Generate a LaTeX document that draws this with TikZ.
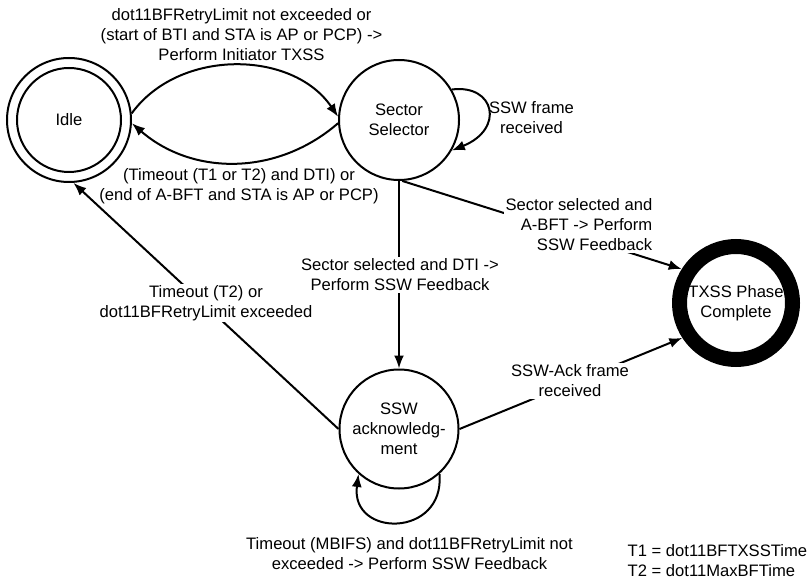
\documentclass[tikz,border=0pt]{standalone}
\usepackage{fontspec}
\setmainfont{Liberation Sans}
\usetikzlibrary{arrows.meta}
\begin{document}
\begin{tikzpicture}[x=1pt,y=1pt,
  every node/.style={font=\fontsize{16.6}{20}\selectfont},
  state/.style={circle,draw,line width=2pt,align=center,inner sep=0pt},
  conn/.style={line width=2pt,-{Latex[length=13pt,width=10pt]}},
  lbl/.style={align=center,inner sep=1.5pt},
  wlbl/.style={lbl,fill=white}]
\useasboundingbox (0,0) rectangle (810,584);
% states
\node[state,minimum size=124] (idle) at (69,464) {};
\node[state,minimum size=104] (idlein) at (69,464) {Idle};
\node[state,minimum size=120] (sel) at (399,464) {Sector\\Selector};
\node[state,minimum size=119] (ack) at (399,155) {SSW\\acknowledg-\\ment};
\node[state,minimum size=113,line width=15pt] (txss) at (736,281) {TXSS Phase\\Complete};
% connectors
\draw[conn] (idle.6) to[bend left=55] (sel.177);
\draw[conn] (sel.183) to[bend left=41] (idle.-3);
\draw[conn] (sel.30) .. controls (495,500) and (505,455) .. (sel.-30);
\draw[conn] (ack.-48) .. controls (445,46) and (350,46) .. (ack.-132);
\draw[conn] (sel.-87) -- (txss.148);
\draw[conn] (sel.south) -- (ack.north);
\draw[conn] (ack.180) -- (idle.-86);
\draw[conn] (ack.0) -- (txss.213);
% labels
\node[lbl] (l1) at (241.5,549) {dot11BFRetryLimit not exceeded or\\(start of BTI and STA is AP or PCP) ->\\Perform Initiator TXSS};
\node[lbl] (l2) at (239,398) {(Timeout (T1 or T2) and DTI) or\\(end of A-BFT and STA is AP or PCP)};
\node[lbl] (l3) at (531.5,466) {SSW frame\\received};
\node[wlbl,align=right,anchor=east] (l4) at (654,359) {Sector selected and\\A-BFT -> Perform\\SSW Feedback};
\node[wlbl] (l6) at (206,281) {Timeout (T2) or\\dot11BFRetryLimit exceeded};
\node[wlbl] (l5) at (400,309) {Sector selected and DTI ->\\Perform SSW Feedback};
\node[wlbl] (l7) at (570,203) {SSW-Ack frame\\received};
\node[lbl] (l8) at (409.5,30.5) {Timeout (MBIFS) and dot11BFRetryLimit not\\exceeded -> Perform SSW Feedback};
\node[lbl,align=left,anchor=west] (l9) at (626,23) {T1 = dot11BFTXSSTime\\T2 = dot11MaxBFTime};
\end{tikzpicture}
\end{document}
